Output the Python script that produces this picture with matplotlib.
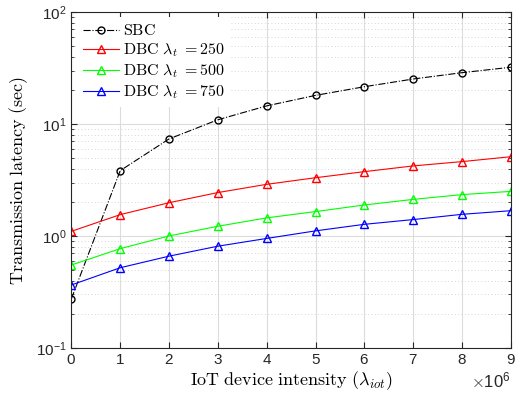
import matplotlib
matplotlib.use("Agg")
import matplotlib.pyplot as plt
from matplotlib.ticker import LogLocator, NullFormatter, ScalarFormatter

plt.rcParams["mathtext.fontset"] = "cm"
plt.rcParams["font.family"] = ["Liberation Sans", "DejaVu Sans"]

# IoT device intensity (x 1e6)
iot_intensity = [0, 1, 2, 3, 4, 5, 6, 7, 8, 9]
sbc = [0.275, 3.83, 7.35, 10.9, 14.5, 18.0, 21.5, 25.2, 28.7, 32.1]
dbc_250 = [1.10, 1.55, 1.98, 2.44, 2.89, 3.31, 3.75, 4.22, 4.61, 5.1]
dbc_500 = [0.55, 0.77, 1.0, 1.22, 1.45, 1.65, 1.89, 2.12, 2.34, 2.5]
dbc_750 = [0.365, 0.52, 0.66, 0.81, 0.95, 1.11, 1.27, 1.40, 1.56, 1.68]

x = [v * 1e6 for v in iot_intensity]

fig = plt.figure(figsize=(5.25, 3.99), dpi=100)
ax = fig.add_axes([0.136, 0.128, 0.837, 0.842])

ax.plot(x, sbc, color="black", linestyle="-.", linewidth=0.8, marker="o",
        markersize=5, markerfacecolor="none", label=r"$\mathrm{SBC}$")
ax.plot(x, dbc_250, color="red", linewidth=0.8, marker="^", markersize=6,
        markerfacecolor="none", label=r"$\mathrm{DBC}\ \lambda_t\ {=}250$")
ax.plot(x, dbc_500, color="#00ff00", linewidth=0.8, marker="^", markersize=6,
        markerfacecolor="none", label=r"$\mathrm{DBC}\ \lambda_t\ {=}500$")
ax.plot(x, dbc_750, color="blue", linewidth=0.8, marker="^", markersize=6,
        markerfacecolor="none", label=r"$\mathrm{DBC}\ \lambda_t\ {=}750$")

ax.set_yscale("log")
ax.set_ylim(0.1, 100)
ax.set_xlim(0, 9e6)
ax.set_xticks(x)
fmt = ScalarFormatter(useMathText=True)
fmt.set_powerlimits((0, 0))
ax.xaxis.set_major_formatter(fmt)
ax.yaxis.set_minor_locator(LogLocator(base=10, subs=range(2, 10)))
ax.yaxis.set_minor_formatter(NullFormatter())

ax.grid(True, which="major", color="#dcdcdc", linewidth=0.8, linestyle="-")
ax.grid(True, which="minor", axis="y", color="#c8c8c8", linewidth=0.6, linestyle=(0, (1, 3)))
ax.set_axisbelow(True)

ax.tick_params(which="both", direction="in", top=True, right=True, labelsize=11, colors="#262626")
ax.tick_params(which="major", length=4)
ax.tick_params(which="minor", length=2)
for spine in ax.spines.values():
    spine.set_color("#262626")
    spine.set_linewidth(0.8)

ax.xaxis.get_offset_text().set_fontsize(12)

ax.set_xlabel(r"$\mathrm{IoT\ device\ intensity\ }(\lambda_{iot})$", fontsize=13, labelpad=2)
ax.set_ylabel(r"$\mathrm{Transmission\ latency\ (sec)}$", fontsize=13, labelpad=4)

leg = ax.legend(loc="upper left", fontsize=11.5, frameon=True, edgecolor="none",
                framealpha=1, handlelength=2.3, borderaxespad=0.3, labelspacing=0.2,
                handletextpad=0.2)

fig.savefig("out.png", dpi=100)
